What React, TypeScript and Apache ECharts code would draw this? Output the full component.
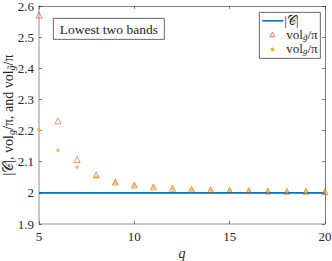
import React, { useEffect, useRef } from "react";
import * as echarts from "echarts";

const qValues = [5, 6, 7, 8, 9, 10, 11, 12, 13, 14, 15, 16, 17, 18, 19, 20];
const chernValues = [2, 2, 2, 2, 2, 2, 2, 2, 2, 2, 2, 2, 2, 2, 2, 2];
const volTildeValues = [2.571, 2.231, 2.107, 2.058, 2.035, 2.025, 2.019, 2.015, 2.012, 2.010, 2.008, 2.007, 2.006, 2.005, 2.005, 2.004];
const volValues = [2.203, 2.137, 2.083, 2.051, 2.033, 2.024, 2.018, 2.014, 2.011, 2.009, 2.008, 2.007, 2.006, 2.005, 2.004, 2.004];
const xTicks = [5, 10, 15, 20];
const yTicks = [1.9, 2.0, 2.1, 2.2, 2.3, 2.4, 2.5, 2.6];

const FONT = "Liberation Serif";

export default function App() {
  const ref = useRef<HTMLDivElement>(null);
  useEffect(() => {
    if (!ref.current) return;
    const chart = echarts.init(ref.current, null, { renderer: "svg" });
    const pair = (ys: number[]) => qValues.map((q, i) => [q, ys[i]]);
    const axisCommon = {
      axisTick: { inside: true, length: 3, lineStyle: { color: "#262626", width: 0.6 } },
      splitLine: { show: false },
    };
    const sub = { fontFamily: FONT, fontSize: 9, fontStyle: "italic", color: "#262626", verticalAlign: "bottom", padding: [5, 0, 0, 0] };
    chart.setOption({
      animation: false,
      backgroundColor: "#fff",
      grid: { left: 39, right: 7, top: 6, bottom: 37, containLabel: false, outerBoundsMode: "none" },
      xAxis: [
        {
          type: "value",
          min: 5,
          max: 20,
          interval: 5,
          ...axisCommon,
          axisLine: { show: true, lineStyle: { color: "#c8c8c8", width: 2 } },
          axisLabel: {
            fontFamily: FONT,
            fontSize: 13,
            color: "#262626",
            margin: 6,
            formatter: (v: number) => (xTicks.includes(v) ? String(v) : ""),
          },
          name: "q",
          nameLocation: "middle",
          nameGap: 22,
          nameMoveOverlap: false,
          nameTextStyle: { fontFamily: FONT, fontSize: 14, fontStyle: "italic", color: "#262626" },
        },
        {
          type: "value",
          position: "top",
          min: 5,
          max: 20,
          interval: 5,
          ...axisCommon,
          axisLine: { show: true, onZero: false, lineStyle: { color: "#262626", width: 0.6 } },
          axisLabel: { show: false },
        },
      ],
      yAxis: [
        {
          type: "value",
          min: 1.9,
          max: 2.6,
          interval: 0.1,
          ...axisCommon,
          axisLine: { show: true, lineStyle: { color: "#c8c8c8", width: 2 } },
          axisLabel: {
            fontFamily: FONT,
            fontSize: 13,
            color: "#262626",
            margin: 5,
            formatter: (v: number) => {
              const t = yTicks.find((y) => Math.abs(y - v) < 1e-6);
              return t === undefined ? "" : String(Number(t.toFixed(1)));
            },
          },
          name: "{a||𝒞|, vol}{s|g}{a|/π, and vol}{s|g̃}{a|/π}",
          nameLocation: "middle",
          nameGap: 23,
          nameMoveOverlap: false,
          nameTextStyle: {
            fontFamily: FONT,
            color: "#262626",
            rich: {
              a: { fontFamily: FONT, fontSize: 14, color: "#262626" },
              s: { ...sub, fontSize: 10 },
            },
          },
        },
        {
          type: "value",
          position: "right",
          min: 1.9,
          max: 2.6,
          interval: 0.1,
          ...axisCommon,
          axisLine: { show: true, onZero: false, lineStyle: { color: "#262626", width: 0.6 } },
          axisLabel: { show: false },
        },
      ],
      series: [
        {
          name: "chern",
          type: "line",
          data: pair(chernValues),
          showSymbol: false,
          symbol: "none",
          lineStyle: { color: "#0072BD", width: 1.6 },
          z: 2,
        },
        {
          name: "volTilde",
          type: "scatter",
          data: pair(volTildeValues),
          symbol: "triangle",
          symbolSize: 6,
          itemStyle: { color: "rgba(0,0,0,0)", borderColor: "#D95319", borderWidth: 0.8 },
          z: 3,
        },
        {
          name: "vol",
          type: "scatter",
          data: pair(volValues),
          symbol: "circle",
          symbolSize: 3.6,
          itemStyle: { color: "#EDB120" },
          z: 4,
        },
      ],
      graphic: [
        {
          type: "group",
          left: 53,
          top: 18,
          children: [
            { type: "rect", shape: { x: 0, y: 0, width: 111, height: 21 }, style: { fill: "#fff", stroke: "#262626", lineWidth: 0.7 } },
            { type: "text", x: 55.5, y: 11, style: { text: "Lowest two bands", font: `13.5px "${FONT}"`, fill: "#262626", align: "center", verticalAlign: "middle" } },
          ],
        },
        {
          type: "group",
          left: 259,
          top: 12,
          children: [
            { type: "rect", shape: { x: 0, y: 0, width: 61, height: 46 }, style: { fill: "#fff", stroke: "#262626", lineWidth: 0.7 } },
            { type: "line", shape: { x1: 3, y1: 8.5, x2: 24, y2: 8.5 }, style: { stroke: "#0072BD", lineWidth: 1.6 } },
            { type: "polygon", shape: { points: [[13, 20], [15.5, 24.5], [10.5, 24.5]] }, style: { fill: "none", stroke: "#D95319", lineWidth: 0.8 } },
            { type: "circle", shape: { cx: 13, cy: 37, r: 1.8 }, style: { fill: "#EDB120" } },
            { type: "text", x: 25, y: 8.5, style: { text: "|𝒞|", font: `13px "${FONT}"`, fill: "#262626", verticalAlign: "middle" } },
            {
              type: "text",
              x: 27,
              y: 22,
              style: {
                text: "{a|vol}{s|g̃}{a|/π}",
                verticalAlign: "middle",
                rich: {
                  a: { fontFamily: FONT, fontSize: 13, fill: "#262626" },
                  s: { ...sub, fill: "#262626" },
                },
              },
            },
            {
              type: "text",
              x: 27,
              y: 36,
              style: {
                text: "{a|vol}{s|g}{a|/π}",
                verticalAlign: "middle",
                rich: {
                  a: { fontFamily: FONT, fontSize: 13, fill: "#262626" },
                  s: { ...sub, fill: "#262626" },
                },
              },
            },
          ],
        },
      ],
    });
    return () => chart.dispose();
  }, []);
  return (
    <div style={{ position: "absolute", left: 0, top: 0 }}>
      <div ref={ref} style={{ width: 332, height: 261 }} />
    </div>
  );
}
